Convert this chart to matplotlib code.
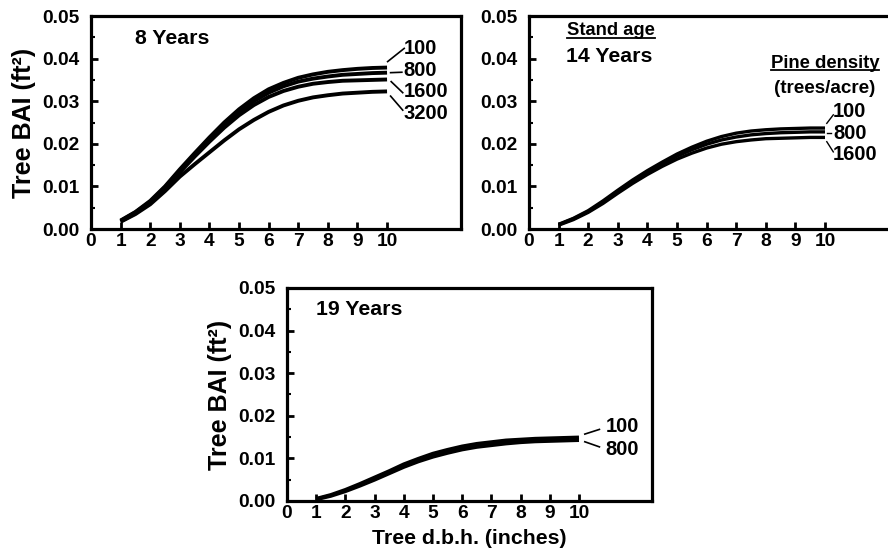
import matplotlib
matplotlib.use("Agg")
import matplotlib.pyplot as plt
from matplotlib.ticker import MultipleLocator, FixedLocator
from matplotlib.lines import Line2D

plt.rcParams['font.family'] = ['Liberation Sans', 'DejaVu Sans']
plt.rcParams['font.weight'] = 'bold'

# ---------------- data ----------------
dbh = [1, 1.5, 2, 2.5, 3, 3.5, 4, 4.5, 5, 5.5, 6, 6.5, 7, 7.5, 8, 8.5, 9, 9.5, 10]

age8_100 = [0.0020, 0.0040, 0.0066, 0.0100, 0.0140, 0.0178, 0.0215, 0.0250, 0.0281, 0.0307,
            0.0328, 0.0343, 0.0355, 0.0363, 0.0369, 0.0373, 0.0376, 0.0378, 0.0379]
age8_800 = [0.0019, 0.0039, 0.0064, 0.0098, 0.0137, 0.0175, 0.0211, 0.0245, 0.0275, 0.0300,
            0.0320, 0.0335, 0.0346, 0.0353, 0.0358, 0.0362, 0.0364, 0.0366, 0.0367]
age8_1600 = [0.0018, 0.0037, 0.0062, 0.0095, 0.0133, 0.0170, 0.0205, 0.0238, 0.0267, 0.0291,
             0.0310, 0.0324, 0.0334, 0.0341, 0.0345, 0.0348, 0.0349, 0.0350, 0.0351]
age8_3200 = [0.0017, 0.0035, 0.0058, 0.0089, 0.0123, 0.0152, 0.0180, 0.0208, 0.0234, 0.0256,
             0.0275, 0.0290, 0.0301, 0.0309, 0.0314, 0.0318, 0.0320, 0.0322, 0.0323]

age14_100 = [0.0011, 0.0025, 0.0043, 0.0066, 0.0091, 0.0115, 0.0137, 0.0157, 0.0176, 0.0192,
             0.0206, 0.0217, 0.0225, 0.0230, 0.0233, 0.0235, 0.0236, 0.0237, 0.0237]
age14_800 = [0.0010, 0.0024, 0.0041, 0.0063, 0.0088, 0.0112, 0.0133, 0.0153, 0.0171, 0.0186,
             0.0199, 0.0209, 0.0216, 0.0221, 0.0224, 0.0226, 0.0227, 0.0228, 0.0228]
age14_1600 = [0.0009, 0.0022, 0.0039, 0.0060, 0.0084, 0.0107, 0.0128, 0.0147, 0.0164, 0.0178,
              0.0190, 0.0199, 0.0205, 0.0209, 0.0212, 0.0213, 0.0214, 0.0215, 0.0215]

age19_100 = [0.0005, 0.0014, 0.0026, 0.0040, 0.0055, 0.0070, 0.0086, 0.0099, 0.0111, 0.0120,
             0.0128, 0.0134, 0.0138, 0.0142, 0.0144, 0.0146, 0.0147, 0.0148, 0.0149]
age19_800 = [0.0004, 0.0012, 0.0023, 0.0036, 0.0050, 0.0065, 0.0080, 0.0093, 0.0104, 0.0113,
             0.0121, 0.0127, 0.0131, 0.0135, 0.0138, 0.0140, 0.0141, 0.0142, 0.0143]

x_ticks = [0, 1, 2, 3, 4, 5, 6, 7, 8, 9, 10]
y_ticks = [0.00, 0.01, 0.02, 0.03, 0.04, 0.05]

FS = 13.8      # tick labels
FT = 15.3      # panel titles
FL = 14.5      # density labels
FY = 18        # y axis label
LW = 2.8

fig = plt.figure(figsize=(8.88, 5.58), dpi=100)
ax1 = fig.add_axes([0.1025, 0.5896, 0.4167, 0.3817])
ax2 = fig.add_axes([0.5957, 0.5896, 0.4167, 0.3817])
ax3 = fig.add_axes([0.3232, 0.1022, 0.411, 0.3817])


def style(ax):
    ax.set_xlim(0, 12.5)
    ax.set_ylim(0, 0.05)
    ax.xaxis.set_major_locator(FixedLocator(x_ticks))
    ax.set_xticklabels([str(t) for t in x_ticks], fontsize=FS, fontweight='bold')
    ax.yaxis.set_major_locator(FixedLocator(y_ticks))
    ax.set_yticklabels(['%.2f' % t for t in y_ticks], fontsize=FS, fontweight='bold')
    ax.yaxis.set_minor_locator(MultipleLocator(0.005))
    ax.tick_params(which='major', direction='in', length=5, width=2)
    ax.tick_params(which='minor', direction='in', length=3, width=1.5)
    ax.tick_params(axis='y', which='major', pad=8)
    ax.tick_params(axis='x', which='major', pad=3)
    for s in ax.spines.values():
        s.set_linewidth(2.3)


for ax in (ax1, ax2, ax3):
    style(ax)

underlined = []

# ---- panel 1: 8 years ----
for ys in (age8_100, age8_800, age8_1600, age8_3200):
    ax1.plot(dbh, ys, color='black', lw=LW, solid_capstyle='butt')
ax1.text(1.5, 0.0448, '8 Years', fontsize=FT, fontweight='bold', va='center', ha='left')
lab1 = [('100', 0.0424, (10.02, 0.0393), (10.58, 0.0424)),
        ('800', 0.0373, (10.12, 0.0367), (10.50, 0.0368)),
        ('1600', 0.0322, (10.14, 0.0346), (10.53, 0.0320)),
        ('3200', 0.0272, (10.12, 0.0312), (10.53, 0.0279))]
for t, yy, p0, p1 in lab1:
    ax1.plot([p0[0], p1[0]], [p0[1], p1[1]], color='black', lw=1.2, clip_on=False)
    ax1.text(10.56, yy, t, fontsize=FL, fontweight='bold', va='center', ha='left')
ax1.set_ylabel('Tree BAI (ft²)', fontsize=FY, fontweight='bold', labelpad=5)

# ---- panel 2: 14 years ----
for ys in (age14_100, age14_800, age14_1600):
    ax2.plot(dbh, ys, color='black', lw=2.4, solid_capstyle='butt')
underlined.append(ax2.text(1.3, 0.0465, 'Stand age', fontsize=13.2, fontweight='bold',
                           va='center', ha='left'))
ax2.text(1.25, 0.0406, '14 Years', fontsize=FT, fontweight='bold', va='center', ha='left')
underlined.append(ax2.text(10.0, 0.0389, 'Pine density', fontsize=13.3, fontweight='bold',
                           va='center', ha='center'))
ax2.text(10.0, 0.0330, '(trees/acre)', fontsize=13.6, fontweight='bold', va='center', ha='center')
lab2 = [('100', 0.0275, (10.06, 0.0248), (10.28, 0.0268)),
        ('800', 0.0225, (10.07, 0.0226), (10.20, 0.0226)),
        ('1600', 0.0174, (10.06, 0.0205), (10.28, 0.0181))]
for t, yy, p0, p1 in lab2:
    ax2.plot([p0[0], p1[0]], [p0[1], p1[1]], color='black', lw=1.0, clip_on=False)
    ax2.text(10.27, yy, t, fontsize=FL, fontweight='bold', va='center', ha='left')

# ---- panel 3: 19 years ----
for ys in (age19_100, age19_800):
    ax3.plot(dbh, ys, color='black', lw=LW, solid_capstyle='butt')
ax3.text(1.0, 0.0450, '19 Years', fontsize=FT, fontweight='bold', va='center', ha='left')
lab3 = [('100', 0.0174, (10.2, 0.0157), (10.7, 0.0168)),
        ('800', 0.0120, (10.2, 0.0139), (10.7, 0.0127))]
for t, yy, p0, p1 in lab3:
    ax3.plot([p0[0], p1[0]], [p0[1], p1[1]], color='black', lw=1.2, clip_on=False)
    ax3.text(10.9, yy, t, fontsize=FL, fontweight='bold', va='center', ha='left')
ax3.set_ylabel('Tree BAI (ft²)', fontsize=FY, fontweight='bold', labelpad=5)
ax3.set_xlabel('Tree d.b.h. (inches)', fontsize=15.3, fontweight='bold', labelpad=5)

# underline texts
fig.canvas.draw()
renderer = fig.canvas.get_renderer()
inv = fig.transFigure.inverted()
for txt in underlined:
    bb = txt.get_window_extent(renderer)
    x0, y0 = inv.transform((bb.x0, bb.y0 + 1.5))
    x1, _ = inv.transform((bb.x1, bb.y0 + 1.5))
    fig.add_artist(Line2D([x0, x1], [y0, y0], transform=fig.transFigure, color='black', lw=1.3))

fig.savefig('out.png', dpi=100)
